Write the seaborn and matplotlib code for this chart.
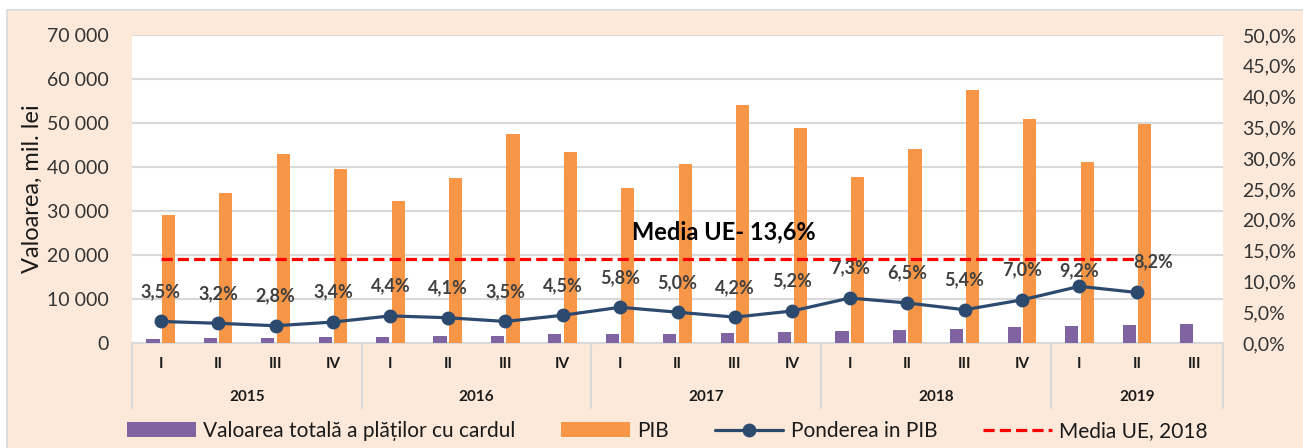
import numpy as np
import pandas as pd
import matplotlib.pyplot as plt
import seaborn as sns
from matplotlib.patches import Patch, Rectangle
from matplotlib.lines import Line2D
import matplotlib.transforms as mtransforms

# data
years = ['2015', '2016', '2017', '2018', '2019']
quarters_per_year = [4, 4, 4, 4, 3]
quarter_names = ['I', 'II', 'III', 'IV']

card_values = [1020, 1090, 1200, 1340, 1420, 1540, 1670, 1950,
               2040, 2040, 2280, 2540, 2750, 2870, 3100, 3560,
               3790, 4080, 4400]
pib_values = [29200, 34200, 43000, 39500, 32300, 37500, 47600, 43400,
              35200, 40700, 54200, 48900, 37700, 44200, 57500, 50900,
              41200, 49700, np.nan]
share_pib = [3.5, 3.2, 2.8, 3.4, 4.4, 4.1, 3.5, 4.5, 5.8, 5.0, 4.2, 5.2,
             7.3, 6.5, 5.4, 7.0, 9.2, 8.2]
eu_average = 13.6

label_card = 'Valoarea totală a plăților cu cardul'
label_pib = 'PIB'
label_share = 'Ponderea in PIB'
label_eu = 'Media UE, 2018'

PURPLE = '#8064A2'
ORANGE = '#F79646'
NAVY = '#2C4A6E'
RED = '#FF0000'
PEACH = '#FDE9D9'
GRID = '#D9D9D9'

# category keys
quarters = []
cats = []
for y, n in zip(years, quarters_per_year):
    for q in quarter_names[:n]:
        quarters.append(q)
        cats.append(f'{y} {q}')

df = pd.DataFrame({
    'cat': cats * 2,
    'val': card_values + pib_values,
    'serie': [label_card] * len(cats) + [label_pib] * len(cats),
})

sns.set_theme(style='white')
plt.rcParams['font.family'] = ['Lato', 'DejaVu Sans']

W, H = 1303, 448
fig = plt.figure(figsize=(W / 100, H / 100), dpi=100)
fig.patch.set_facecolor('white')
fig.patches.append(Rectangle((7 / W, -0.05), 1.1, 1 - 10 / H + 0.05,
                             transform=fig.transFigure, facecolor=PEACH,
                             edgecolor=GRID, linewidth=1.2, zorder=-10))

ax = fig.add_axes([132 / W, 1 - 343 / H, (1223 - 132) / W, (343 - 35) / H])
ax.set_facecolor('white')

sns.barplot(data=df, x='cat', y='val', hue='serie', order=cats,
            palette=[PURPLE, ORANGE], width=0.54, gap=0.15, saturation=1,
            errorbar=None, linewidth=0, legend=False, ax=ax, zorder=3)

ax.set_ylim(0, 70000)
ax.set_yticks(range(0, 70001, 10000))
ax.set_yticklabels([f'{v:,}'.replace(',', ' ') for v in range(0, 70001, 10000)])
ax.yaxis.grid(True, color=GRID, linewidth=1.5, zorder=0)
ax.set_axisbelow(True)
for s in ax.spines.values():
    s.set_visible(False)
ax.set_xlabel('')
ax.set_ylabel('Valoarea, mil. lei', fontsize=17, color='#1a1a1a', labelpad=3)
ax.tick_params(axis='y', length=0, pad=17, labelsize=14, labelcolor='#333333')
ax.set_xticks(range(len(cats)))
ax.set_xticklabels(quarters, fontweight='bold', fontsize=11)
ax.tick_params(axis='x', length=0, pad=10, labelcolor='#1a1a1a')

# line on secondary axis
ax2 = ax.twinx()
xs = np.arange(len(share_pib))
sns.lineplot(x=xs, y=share_pib, ax=ax2, color=NAVY, linewidth=2.3,
             marker='o', markersize=10, markeredgewidth=0, zorder=5)
ax2.hlines(eu_average, 0, len(share_pib) - 1, colors=RED, linewidth=2.3,
           linestyles=(0, (3.5, 1.6)), zorder=4)
ax2.set_ylim(0, 50)
ax2.set_yticks(range(0, 51, 5))
ax2.set_yticklabels([f'{v:.1f}%'.replace('.', ',') for v in range(0, 51, 5)])
ax2.tick_params(axis='y', length=0, pad=14, labelsize=14, labelcolor='#333333')
for s in ax2.spines.values():
    s.set_visible(False)
ax2.set_xlim(-0.5, len(cats) - 0.5)

# value labels
for i, v in enumerate(share_pib):
    txt = f'{v:.1f}%'.replace('.', ',')
    if i == len(share_pib) - 1:
        ax2.annotate(txt, (i, v), xytext=(12, 22), textcoords='offset points',
                     ha='center', va='center', fontsize=13, fontweight='bold',
                     color='#404040',
                     arrowprops=dict(arrowstyle='-', color='#A6A6A6', lw=1,
                                     shrinkA=6, shrinkB=5))
    elif i == len(share_pib) - 2:
        ax2.annotate(txt, (i, v), xytext=(0, 11), textcoords='offset points',
                     ha='center', va='center', fontsize=13, fontweight='bold',
                     color='#404040')
    else:
        ax2.annotate(txt, (i, v), xytext=(0, 21.5), textcoords='offset points',
                     ha='center', va='center', fontsize=13, fontweight='bold',
                     color='#404040')

ax2.text(9.8, 18.0, f'Media UE- {eu_average:.1f}%'.replace('.', ','),
         ha='center', va='center', fontsize=17, fontweight='bold', color='black')

# multi-level category axis
trans = mtransforms.blended_transform_factory(ax.transData, ax.transAxes)
bounds = np.concatenate([[0], np.cumsum(quarters_per_year)]) - 0.5
for b in bounds:
    ax.plot([b, b], [0, -0.211], transform=trans, color=GRID, lw=1.5,
            clip_on=False)
for y, a, b in zip(years, bounds[:-1], bounds[1:]):
    ax.text((a + b) / 2, -0.175, y, transform=trans, ha='center', va='center',
            fontsize=11, fontweight='bold', color='#1a1a1a')
ax.plot([-0.5, len(cats) - 0.5], [0, 0], transform=trans, color=GRID, lw=1.5,
        clip_on=False)

handles = [
    Patch(facecolor=PURPLE, edgecolor='none'),
    Patch(facecolor=ORANGE, edgecolor='none'),
    Line2D([], [], color=NAVY, lw=2.3, marker='o', markersize=10, markeredgewidth=0),
    Line2D([], [], color=RED, lw=2.3, linestyle=(0, (3.5, 1.6))),
]
fig.legend(handles, [label_card, label_pib, label_share, label_eu],
           loc='center', bbox_to_anchor=(0.512, 1 - 431 / H), ncol=4,
           frameon=False, fontsize=15, handlelength=3.3, handletextpad=0.35,
           columnspacing=2.2, labelcolor='#1a1a1a')

fig.savefig('out.png', dpi=100)
